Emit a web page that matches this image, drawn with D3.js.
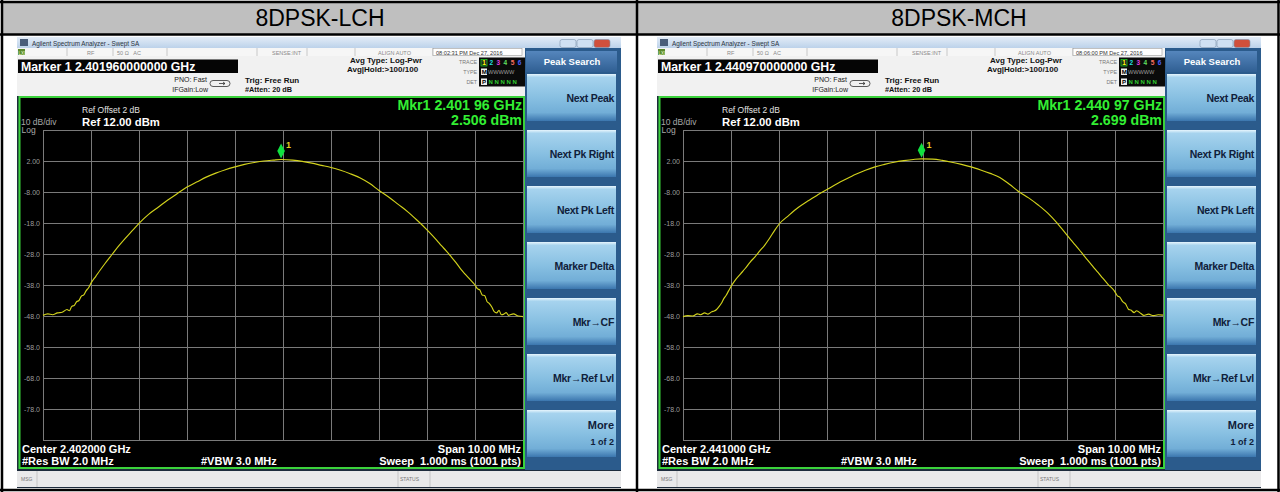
<!DOCTYPE html>
<html>
<head>
<meta charset="utf-8">
<script src="https://cdn.jsdelivr.net/npm/d3@7"></script>
<style>
  body { margin: 0; background: #fff; }
  svg { display: block; }
  text { font-family: "Liberation Sans", Arial, sans-serif; white-space: pre; }
</style>
</head>
<body>
<svg id="chart" width="1280" height="492"></svg>
<script>
// ---- data ----
const panelTitles = ["8DPSK-LCH", "8DPSK-MCH"];
const markerFreqs = ["2.401960000000", "2.440970000000"];
const mkrReadouts = ["2.401 96 GHz", "2.440 97 GHz"];
const mkrLevels = [2.506, 2.699];          // dBm
const mkrOffsets = [-0.04, -0.03];         // MHz from centre
const centerFreqs = ["2.402000 GHz", "2.441000 GHz"];
const timestamps = ["08:02:31 PM Dec 27, 2016", "08:06:00 PM Dec 27, 2016"];

const yTickValues = [2, -8, -18, -28, -38, -48, -58, -68, -78];
const yTickLabels = ["2.00", "-8.00", "-18.0", "-28.0", "-38.0", "-48.0", "-58.0", "-68.0", "-78.0"];
const softkeys = ["Next Peak", "Next Pk Right", "Next Pk Left", "Marker Delta", "Mkr\u2192CF", "Mkr\u2192Ref Lvl", "More"];

// trace, low channel (offset MHz / level dBm)
const lchOffsets = [-5.00, -4.90, -4.80, -4.70, -4.60, -4.50, -4.45, -4.40, -4.35, -4.30, -4.25, -4.20, -4.15, -4.10, -4.05,
  -4.00, -3.90, -3.80, -3.70, -3.60, -3.50, -3.40, -3.30, -3.20, -3.10, -3.00, -2.80, -2.60, -2.40, -2.20, -2.00,
  -1.80, -1.60, -1.40, -1.20, -1.00, -0.80, -0.60, -0.40, -0.20, -0.04, 0.20, 0.40, 0.60, 0.80, 1.00, 1.20, 1.40,
  1.60, 1.80, 2.00, 2.20, 2.40, 2.60, 2.80, 3.00, 3.10, 3.20, 3.30, 3.40, 3.50, 3.60, 3.70, 3.80, 3.90, 4.00,
  4.05, 4.10, 4.15, 4.20, 4.25, 4.30, 4.35, 4.40, 4.45, 4.50, 4.55, 4.60, 4.65, 4.70, 4.80, 4.90, 5.00];
const lchLevels = [-47.8, -47.3, -47.6, -47.0, -46.8, -45.9, -46.3, -44.9, -44.6, -43.4, -43.0, -41.6, -41.2, -39.8, -38.9,
  -37.4, -35.2, -33.0, -30.9, -28.9, -26.9, -25.0, -23.2, -21.5, -19.8, -18.1, -15.2, -12.9, -10.6, -8.5, -6.4,
  -4.8, -3.2, -1.9, -0.8, 0.1, 0.9, 1.5, 2.0, 2.3, 2.5, 2.3, 1.9, 1.3, 0.6, -0.1, -1.0, -2.1,
  -3.4, -5.2, -7.5, -9.6, -12.0, -14.4, -17.2, -20.2, -21.8, -23.5, -25.3, -27.0, -28.8, -30.7, -32.8, -34.6, -36.3, -38.0,
  -39.2, -39.6, -41.2, -41.4, -43.3, -44.0, -45.1, -46.6, -47.0, -46.2, -47.6, -47.4, -46.9, -47.8, -47.3, -48.0, -48.2];

// trace, middle channel
const mchOffsets = [-5.00, -4.90, -4.80, -4.70, -4.63, -4.55, -4.48, -4.40, -4.35, -4.30, -4.25, -4.20, -4.15, -4.10, -4.05,
  -4.00, -3.90, -3.80, -3.70, -3.60, -3.50, -3.40, -3.30, -3.20, -3.10, -3.00, -2.80, -2.60, -2.40, -2.20, -2.00,
  -1.80, -1.60, -1.40, -1.20, -1.00, -0.80, -0.60, -0.40, -0.20, -0.03, 0.20, 0.40, 0.60, 0.80, 1.00, 1.20, 1.40,
  1.60, 1.80, 2.00, 2.20, 2.40, 2.60, 2.80, 3.00, 3.10, 3.20, 3.30, 3.43, 3.55, 3.65, 3.75, 3.85, 4.00,
  4.05, 4.10, 4.16, 4.22, 4.28, 4.33, 4.40, 4.45, 4.54, 4.60, 4.70, 4.80, 4.90, 5.00];
const mchLevels = [-48.2, -47.9, -48.0, -47.3, -47.6, -47.0, -47.4, -46.6, -46.4, -45.9, -45.0, -43.9, -42.4, -41.3, -39.9,
  -38.5, -36.2, -34.4, -32.6, -30.6, -28.9, -27.0, -25.2, -23.0, -20.6, -18.4, -15.6, -13.0, -10.9, -9.0, -7.2,
  -5.4, -3.8, -2.3, -1.0, 0.1, 0.9, 1.6, 2.1, 2.5, 2.7, 2.6, 2.2, 1.6, 0.9, 0.1, -0.9, -2.0,
  -3.3, -5.5, -7.9, -9.9, -12.2, -14.8, -18.1, -21.9, -23.8, -25.6, -27.5, -30.0, -32.2, -34.0, -35.9, -37.7, -40.2,
  -41.5, -41.9, -43.4, -44.1, -45.8, -46.1, -46.9, -46.3, -47.2, -47.8, -47.4, -47.9, -47.6, -47.7];

const traceOffsets = [lchOffsets, mchOffsets];
const traceLevels = [lchLevels, mchLevels];

// ---- drawing ----
const svg = d3.select("#chart");
const font = '"Liberation Sans", Arial, sans-serif';
const defs = svg.append("defs");

function grad(id, stops) {
  const lg = defs.append("linearGradient").attr("id", id).attr("x1", 0).attr("y1", 0).attr("x2", 0).attr("y2", 1);
  stops.forEach(s => lg.append("stop").attr("offset", s[0]).attr("stop-color", s[1]));
}
grad("titleBar", [[0, "#e3ecf7"], [1, "#bcd2ea"]]);
grad("softkey", [[0, "#e6f5fd"], [0.07, "#a6d3ee"], [0.5, "#88c0e2"], [0.82, "#72aed7"], [1, "#3b76ae"]]);
grad("header", [[0, "#5586bd"], [1, "#305f93"]]);

svg.append("rect").attr("width", 1280).attr("height", 492).attr("fill", "#fff");

// table title cells
svg.append("rect").attr("x", 3).attr("y", 3).attr("width", 633).attr("height", 31).attr("fill", "#bfbfbf");
svg.append("rect").attr("x", 638).attr("y", 3).attr("width", 640).attr("height", 31).attr("fill", "#bfbfbf");
panelTitles.forEach((t, i) => {
  svg.append("text").attr("x", 320 + i * 639).attr("y", 26).attr("text-anchor", "middle")
    .attr("font-size", 23).attr("fill", "#000").text(t);
});

// table borders
const borders = [[0, 2, 1280, 2], [0, 34.5, 1280, 34.5], [0, 490, 1280, 490],
  [2, 0, 2, 492], [637, 0, 637, 492], [1278.5, 0, 1278.5, 492]];
svg.selectAll("line.border").data(borders).join("line").attr("class", "border")
  .attr("x1", d => d[0]).attr("y1", d => d[1]).attr("x2", d => d[2]).attr("y2", d => d[3])
  .attr("stroke", "#000").attr("stroke-width", 2.5);

const x = d3.scaleLinear().domain([-5, 5]).range([43, 523]);
const y = d3.scaleLinear().domain([12, -88]).range([130, 440]);

function txt(g, xx, yy, s, size, fill, opts = {}) {
  return g.append("text").attr("x", xx).attr("y", yy).attr("font-size", size).attr("fill", fill)
    .attr("font-weight", opts.bold ? "bold" : null).attr("text-anchor", opts.anchor || "start").text(s);
}

function drawPanel(i) {
  const g = svg.append("g").attr("transform", `translate(${i * 640},0)`);

  // window frame
  g.append("rect").attr("x", 17).attr("y", 37).attr("width", 604).attr("height", 451).attr("fill", "#1d2b3c");
  g.append("rect").attr("x", 17).attr("y", 37).attr("width", 604).attr("height", 11).attr("fill", "url(#titleBar)");
  g.append("rect").attr("x", 20).attr("y", 39).attr("width", 8).attr("height", 7).attr("fill", "#4a5e7a");
  txt(g, 32, 46, "Agilent Spectrum Analyzer - Swept SA", 6.3, "#2a3340");
  // window buttons
  [["#cfe0f2", 560], ["#cfe0f2", 577], ["#d0503c", 594]].forEach(b => {
    g.append("rect").attr("x", b[1]).attr("y", 39.5).attr("width", 16).attr("height", 8).attr("rx", 2)
      .attr("fill", b[0]).attr("stroke", "#7d93ad").attr("stroke-width", 0.6);
  });

  // status row
  g.append("rect").attr("x", 17).attr("y", 48).attr("width", 508).attr("height", 8).attr("fill", "#f6f6f6");
  g.append("rect").attr("x", 18).attr("y", 49).attr("width", 7).attr("height", 6).attr("fill", "#5b8a2e");
  txt(g, 18.5, 54.5, "LXI", 4.5, "#eaffd0");
  [67, 113, 167, 257, 307, 355, 433].forEach(sx => {
    g.append("line").attr("x1", sx).attr("x2", sx).attr("y1", 48).attr("y2", 56).attr("stroke", "#b4b4b4").attr("stroke-width", 0.7);
  });
  txt(g, 87, 54.5, "RF", 5.5, "#8a8a8a");
  txt(g, 117, 54.5, "50 \u03a9   AC", 5.5, "#8a8a8a");
  txt(g, 272, 54.5, "SENSE:INT", 5.5, "#8a8a8a");
  txt(g, 378, 54.5, "ALIGN AUTO", 5.5, "#8a8a8a");
  g.append("rect").attr("x", 433).attr("y", 48.5).attr("width", 89).attr("height", 7).attr("fill", "#fff").attr("stroke", "#999").attr("stroke-width", 0.6);
  txt(g, 436, 54.5, timestamps[i], 5.6, "#333");

  // settings row
  g.append("rect").attr("x", 17).attr("y", 56).attr("width", 508).attr("height", 40).attr("fill", "#f1f1f1");
  g.append("rect").attr("x", 18).attr("y", 59.5).attr("width", 220).attr("height", 13.5).attr("fill", "#050505");
  txt(g, 21, 71.3, `Marker 1 ${markerFreqs[i]} GHz`, 12.3, "#fff", { bold: true });
  txt(g, 207, 82, "PNO: Fast", 7, "#222", { anchor: "end" });
  txt(g, 208, 92, "IFGain:Low", 7, "#222", { anchor: "end" });
  g.append("path").attr("d", "M213,80.5 h14 a3,3 0 0 1 0,6 h-14 a3,3 0 0 1 0,-6 z M219,83.5 h6 l-2,-1.5 m2,1.5 l-2,1.5")
    .attr("fill", "none").attr("stroke", "#333").attr("stroke-width", 0.8);
  txt(g, 245, 82.5, "Trig: Free Run", 8, "#111", { bold: true });
  txt(g, 245, 92, "#Atten: 20 dB", 7.3, "#111", { bold: true });
  txt(g, 350, 62.5, "Avg Type: Log-Pwr", 8, "#111", { bold: true });
  txt(g, 347, 71.5, "Avg|Hold:>100/100", 8, "#111", { bold: true });
  txt(g, 477, 63.5, "TRACE", 5.3, "#777", { anchor: "end" });
  txt(g, 477, 73.5, "TYPE", 5.3, "#777", { anchor: "end" });
  txt(g, 477, 83.5, "DET", 5.3, "#777", { anchor: "end" });
  g.append("rect").attr("x", 479).attr("y", 57.5).attr("width", 46).attr("height", 29).attr("fill", "#0a0a0a");
  g.append("rect").attr("x", 481).attr("y", 59.5).attr("width", 6).attr("height", 6.5).attr("fill", "#222").attr("stroke", "#2d2").attr("stroke-width", 0.7);
  const traceColors = ["#ffff00", "#22e0e0", "#e040e0", "#60e060", "#ff7060", "#5060ff"];
  traceColors.forEach((c, k) => txt(g, 482.3 + k * 7.1, 65, String(k + 1), 6.5, c, { bold: true }));
  g.append("rect").attr("x", 481).attr("y", 68.5).attr("width", 6).attr("height", 6.5).attr("fill", "#eee");
  txt(g, 481.7, 74.3, "M", 6.2, "#000", { bold: true });
  txt(g, 488, 74.3, "WWWWW", 5.6, "#9a9a9a");
  g.append("rect").attr("x", 481).attr("y", 78.5).attr("width", 6).attr("height", 6.5).attr("fill", "#eee");
  txt(g, 482, 84.3, "P", 6.2, "#000", { bold: true });
  txt(g, 488.5, 84.3, "N N N N N", 6, "#30d030", { bold: true });

  // graph area
  g.append("rect").attr("x", 19.5).attr("y", 97).attr("width", 504.5).attr("height", 371).attr("fill", "#000")
    .attr("stroke", "#3bd23b").attr("stroke-width", 2);

  const gx = g.append("g").attr("transform", `translate(0,${y.range()[1]})`)
    .call(d3.axisBottom(x).tickValues(d3.range(-5, 5.01, 1)).tickSize(-(y.range()[1] - y.range()[0])).tickFormat(""));
  gx.select(".domain").remove();
  gx.selectAll("line").attr("stroke", "#7a7a7a").attr("stroke-width", 1);
  const gy = g.append("g").attr("transform", `translate(${x.range()[0]},0)`)
    .call(d3.axisLeft(y).tickValues(d3.range(12, -88.1, -10)).tickSize(-(x.range()[1] - x.range()[0])).tickFormat(""));
  gy.select(".domain").remove();
  gy.selectAll("line").attr("stroke", "#7a7a7a").attr("stroke-width", 1);

  const gl = g.append("g").attr("transform", `translate(${x.range()[0]},0)`)
    .call(d3.axisLeft(y).tickValues(yTickValues).tickSize(0).tickPadding(3)
      .tickFormat((d, k) => yTickLabels[k]));
  gl.select(".domain").remove();
  gl.selectAll("text").attr("font-size", 7).attr("fill", "#9c9c9c").attr("font-family", font);

  // header texts in graph
  txt(g, 82, 113, "Ref Offset 2 dB", 8.5, "#e0e0e0");
  txt(g, 21, 125, "10 dB/div", 8.5, "#a8a8a8");
  txt(g, 82, 125.5, "Ref 12.00 dBm", 11.3, "#fff", { bold: true });
  txt(g, 21.5, 133, "Log", 8.5, "#a8a8a8");
  txt(g, 522, 110, `Mkr1 ${mkrReadouts[i]}`, 14.2, "#33ee33", { bold: true, anchor: "end" });
  txt(g, 522, 125, `${mkrLevels[i].toFixed(3)} dBm`, 14.2, "#33ee33", { bold: true, anchor: "end" });

  // trace
  const pts = traceOffsets[i].map((o, k) => [o, traceLevels[i][k]]);
  g.append("path").datum(pts)
    .attr("d", d3.line().x(d => x(d[0])).y(d => y(d[1])).curve(d3.curveMonotoneX))
    .attr("fill", "none").attr("stroke", "#d2d21c").attr("stroke-width", 1.15);

  // marker
  const mx = x(mkrOffsets[i]), my = y(mkrLevels[i]);
  g.append("path").attr("d", `M${mx},${my - 16} L${mx + 3.8},${my - 8.5} L${mx},${my - 1} L${mx - 3.8},${my - 8.5} Z`)
    .attr("fill", "#10e040");
  txt(g, mx + 5, my - 11, "1", 9, "#e0d020", { bold: true });

  // bottom annotations
  txt(g, 22, 453, `Center ${centerFreqs[i]}`, 11, "#fff", { bold: true });
  txt(g, 22, 465, "#Res BW 2.0 MHz", 11, "#fff", { bold: true });
  txt(g, 201, 465, "#VBW 3.0 MHz", 11, "#fff", { bold: true });
  txt(g, 521, 453, "Span 10.00 MHz", 11, "#fff", { bold: true, anchor: "end" });
  txt(g, 521, 465, "Sweep  1.000 ms (1001 pts)", 11, "#fff", { bold: true, anchor: "end" });

  // softkey panel
  g.append("rect").attr("x", 525).attr("y", 48).attr("width", 96).attr("height", 422).attr("fill", "#2b5b8c");
  g.append("rect").attr("x", 526).attr("y", 51).attr("width", 91).attr("height", 21).attr("fill", "url(#header)");
  txt(g, 572, 65, "Peak Search", 9.5, "#fff", { bold: true, anchor: "middle" });
  softkeys.forEach((s, k) => {
    const top = 74 + k * 56;
    g.append("rect").attr("x", 527).attr("y", top).attr("width", 89).attr("height", 47).attr("fill", "url(#softkey)");
    if (s === "More") {
      txt(g, 614, top + 19, s, 11, "#10203a", { bold: true, anchor: "end" });
      txt(g, 614, top + 35, "1 of 2", 9, "#10203a", { bold: true, anchor: "end" });
    } else {
      txt(g, 614, top + 28, s, 10.5, "#10203a", { bold: true, anchor: "end" }).attr("letter-spacing", -0.3);
    }
  });

  // message bar
  g.append("rect").attr("x", 17).attr("y", 471).attr("width", 604).attr("height", 16).attr("fill", "#e9e9ea");
  [37, 398, 430].forEach(sx => {
    g.append("line").attr("x1", sx).attr("x2", sx).attr("y1", 471).attr("y2", 487).attr("stroke", "#b8b8b8").attr("stroke-width", 0.7);
  });
  txt(g, 21, 481, "MSG", 5, "#777");
  txt(g, 400, 481, "STATUS", 5, "#777");
}

drawPanel(0);
drawPanel(1);
</script>
</body>
</html>
